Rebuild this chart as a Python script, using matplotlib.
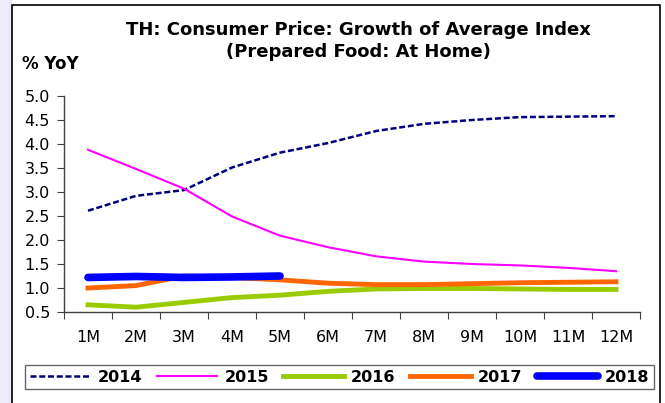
import matplotlib.pyplot as plt
from matplotlib.patches import Rectangle

plt.rcParams['font.family'] = ['DejaVu Sans']

months = ['1M', '2M', '3M', '4M', '5M', '6M', '7M', '8M', '9M', '10M', '11M', '12M']
y2014 = [2.61, 2.92, 3.04, 3.51, 3.82, 4.02, 4.27, 4.42, 4.50, 4.56, 4.57, 4.58]
y2015 = [3.88, 3.48, 3.07, 2.49, 2.09, 1.85, 1.66, 1.55, 1.50, 1.47, 1.42, 1.35]
y2016 = [0.65, 0.60, 0.70, 0.80, 0.85, 0.93, 0.98, 0.99, 0.99, 0.98, 0.97, 0.97]
y2017 = [1.00, 1.05, 1.25, 1.22, 1.17, 1.10, 1.07, 1.07, 1.09, 1.11, 1.12, 1.13]
y2018 = [1.22, 1.24, 1.22, 1.23, 1.25]
yticks = [0.5, 1.0, 1.5, 2.0, 2.5, 3.0, 3.5, 4.0, 4.5, 5.0]

W, H = 665, 403
fig = plt.figure(figsize=(W / 100, H / 100), dpi=100)
fig.patch.set_facecolor('white')

# lavender margin on the left and the black frame around the panel
fig.patches.append(Rectangle((0, 0), 12 / W, 1, transform=fig.transFigure,
                             facecolor='#ECECF8', edgecolor='none', zorder=0))
fig.patches.append(Rectangle((12 / W, -0.05), (660 - 12) / W, (H - 5) / H + 0.05,
                             transform=fig.transFigure, facecolor='none',
                             edgecolor='black', linewidth=1.2, zorder=0))

ax = fig.add_axes([64 / W, 1 - 312 / H, (640 - 64) / W, (312 - 96) / H])
ax.set_facecolor('none')
x = list(range(len(months)))

ax.plot(x, y2014, color='#000080', lw=1.8, ls=(0, (2.4, 1.1)), label='2014', zorder=3)
ax.plot(x, y2015, color='#FF00FF', lw=1.5, label='2015', zorder=3)
ax.plot(x, y2016, color='#99CC00', lw=3.5, label='2016', zorder=3)
ax.plot(x, y2017, color='#FF6600', lw=3.5, label='2017', zorder=4)
ax.plot(x[:len(y2018)], y2018, color='#0000FF', lw=5.5, label='2018',
        solid_capstyle='round', zorder=5)

ax.set_xlim(-0.5, len(months) - 0.5)
ax.set_ylim(0.5, 5.0)
ax.set_yticks(yticks)
ax.set_yticklabels([f'{v:.1f}' for v in yticks])
ax.set_xticks([i - 0.5 for i in range(len(months) + 1)])
ax.set_xticklabels([])
ax.set_xticks(x, minor=True)
ax.set_xticklabels(months, minor=True)
ax.tick_params(axis='x', which='major', length=5, color='#404040', direction='out')
ax.tick_params(axis='x', which='minor', length=0, pad=13, labelsize=11.5)
ax.tick_params(axis='y', length=5, color='#404040', direction='out', labelsize=11.5, pad=5)
for side in ['top', 'right']:
    ax.spines[side].set_visible(False)
for side in ['left', 'bottom']:
    ax.spines[side].set_color('#404040')
    ax.spines[side].set_linewidth(1.0)

fig.text(358 / W, 1 - 30 / H, 'TH: Consumer Price: Growth of Average Index',
         ha='center', va='center', fontsize=13, fontweight='bold')
fig.text(358 / W, 1 - 52 / H, '(Prepared Food: At Home)',
         ha='center', va='center', fontsize=13, fontweight='bold')
fig.text(22 / W, 1 - 64 / H, '% YoY', ha='left', va='center',
         fontsize=12, fontweight='bold')

leg = fig.legend(loc='center', bbox_to_anchor=(339.5 / W, 1 - 377 / H), ncol=5,
                 frameon=True, fancybox=False, handlelength=3.8, columnspacing=0.9,
                 handletextpad=0.45, borderpad=0.3, prop={'weight': 'bold', 'size': 11.5})
leg.get_frame().set_edgecolor('#404040')
leg.get_frame().set_linewidth(1.0)

fig.savefig('out.png', dpi=100)
